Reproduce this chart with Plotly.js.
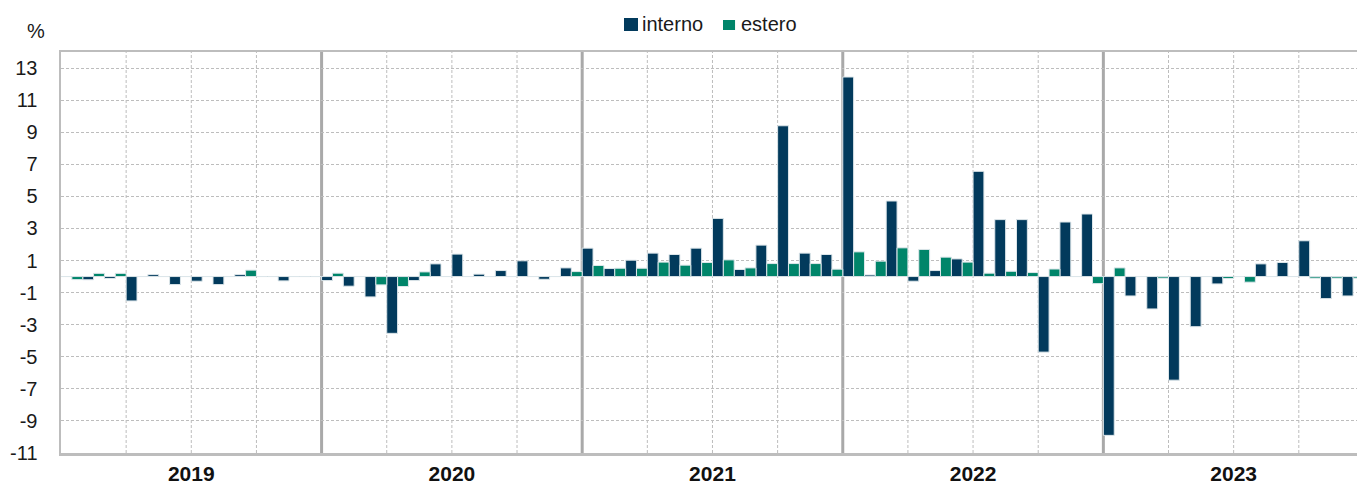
<!DOCTYPE html>
<html>
<head>
<meta charset="utf-8">
<script src="https://cdn.plot.ly/plotly-3.0.1.min.js"></script>
<style>html,body{margin:0;padding:0;background:#fff;}#chart{width:1357px;height:488px;}</style>
</head>
<body>
<div id="chart"></div>
<script>
// ---- data (monthly % changes, Jan 2019 - Dec 2023) ----
const years = ['2019', '2020', '2021', '2022', '2023'];
const yTicks = [-11, -9, -7, -5, -3, -1, 1, 3, 5, 7, 9, 11, 13];
const interno2019 = [0, -0.2, -0.12, -1.52, 0.12, -0.5, -0.29, -0.5, 0.12, 0, -0.27, 0];
const interno2020 = [-0.25, -0.6, -1.27, -3.54, -0.25, 0.79, 1.4, 0.15, 0.375, 0.98, -0.17, 0.54];
const interno2021 = [1.77, 0.5, 1.02, 1.46, 1.375, 1.77, 3.625, 0.44, 1.96, 9.4, 1.46, 1.375];
const interno2022 = [12.44, 0.1, 4.71, -0.29, 0.375, 1.1, 6.56, 3.55, 3.55, -4.71, 3.4, 3.9];
const interno2023 = [-9.9, -1.21, -2.02, -6.46, -3.125, -0.46, 0, 0.79, 0.875, 2.23, -1.375, -1.21];
const estero2019 = [-0.19, 0.2, 0.2, 0, 0, 0, 0, 0, 0.4, 0, 0, 0];
const estero2020 = [0.21, 0, -0.52, -0.62, 0.29, 0, 0, 0, 0, 0, 0, 0.31];
const estero2021 = [0.69, 0.52, 0.52, 0.9, 0.71, 0.875, 1.04, 0.54, 0.81, 0.81, 0.81, 0.46];
const estero2022 = [1.54, 0.96, 1.79, 1.69, 1.21, 0.9, 0.21, 0.33, 0.25, 0.47, 0, -0.44];
const estero2023 = [0.54, 0, -0.1, 0, 0, -0.125, -0.35, 0, 0, -0.1, -0.1, -0.1];

const interno = [].concat(interno2019, interno2020, interno2021, interno2022, interno2023);
const estero = [].concat(estero2019, estero2020, estero2021, estero2022, estero2023);
const xIdx = interno.map((_, i) => i);

const DARK = '#023a5c';
const GREEN = '#00856a';
const FONT = 'Liberation Sans, Arial, sans-serif';

const traces = [
  { type: 'bar', name: 'interno', x: xIdx, y: interno, marker: { color: DARK, line: { color: '#dde6ea', width: 1 } }, hoverinfo: 'y' },
  { type: 'bar', name: 'estero', x: xIdx, y: estero, marker: { color: GREEN, line: { color: '#dde6ea', width: 1 } }, hoverinfo: 'y' }
];

const shapes = [];
for (let yi = 0; yi < years.length; yi++) {
  for (let q = 1; q <= 3; q++) {
    const xv = 12 * yi + 3 * q - 0.5;
    shapes.push({ type: 'line', xref: 'x', yref: 'paper', x0: xv, x1: xv, y0: 0, y1: 1, layer: 'below',
      line: { color: '#bdbdbd', width: 1, dash: '3px,2px' } });
  }
  if (yi > 0) {
    const xv = 12 * yi - 0.5;
    shapes.push({ type: 'line', xref: 'x', yref: 'paper', x0: xv, x1: xv, y0: 0, y1: 1, layer: 'below',
      line: { color: '#a9a9a9', width: 3 } });
  }
}
// custom legend swatches
shapes.push({ type: 'rect', xref: 'paper', yref: 'paper', x0: 0.4344, x1: 0.4452, y0: 1.0524, y1: 1.0848,
  fillcolor: DARK, line: { width: 0 } });
shapes.push({ type: 'rect', xref: 'paper', yref: 'paper', x0: 0.5108, x1: 0.5201, y0: 1.0549, y1: 1.0798,
  fillcolor: GREEN, line: { width: 0 } });

const annotations = [
  { xref: 'paper', yref: 'paper', x: 0.4468, y: 1.0686, xanchor: 'left', yanchor: 'middle', text: 'interno',
    showarrow: false, font: { family: FONT, size: 20, color: '#1a1a1a' } },
  { xref: 'paper', yref: 'paper', x: 0.5231, y: 1.0686, xanchor: 'left', yanchor: 'middle', text: 'estero',
    showarrow: false, font: { family: FONT, size: 20, color: '#1a1a1a' } },
  { xref: 'paper', yref: 'paper', x: -0.0193, y: 1.052, xanchor: 'center', yanchor: 'middle', text: '%',
    showarrow: false, font: { family: FONT, size: 20, color: '#1a1a1a' } }
];

const layout = {
  width: 1357, height: 488,
  margin: { l: 61, r: 0, t: 52, b: 35, pad: 0 },
  paper_bgcolor: '#fff', plot_bgcolor: '#fff',
  barmode: 'group', bargap: 0, bargroupgap: 0,
  showlegend: false,
  font: { family: FONT, color: '#1a1a1a' },
  xaxis: {
    range: [-0.5, 59.18], tickmode: 'array',
    tickvals: years.map((_, i) => 12 * i + 5.5), ticktext: years,
    showgrid: false, zeroline: false,
    showline: true, mirror: true, linecolor: '#bdbdbd', linewidth: 2.5,
    ticks: '', 
    tickfont: { family: FONT, size: 21, color: '#111', weight: 'bold' }
  },
  yaxis: {
    range: [-11, 14], tickmode: 'array', tickvals: yTicks, ticktext: yTicks.map(String),
    showgrid: true, gridcolor: '#bdbdbd', gridwidth: 1, griddash: '3px,2px',
    zeroline: true, zerolinecolor: '#404040', zerolinewidth: 1.6,
    showline: true, linecolor: '#bdbdbd', linewidth: 2.5,
    ticks: 'outside', ticklen: 17, tickcolor: 'rgba(0,0,0,0)',
    tickfont: { family: FONT, size: 20, color: '#1a1a1a' }
  },
  shapes: shapes,
  annotations: annotations
};

Plotly.newPlot('chart', traces, layout, { displayModeBar: false, staticPlot: true });
</script>
</body>
</html>
